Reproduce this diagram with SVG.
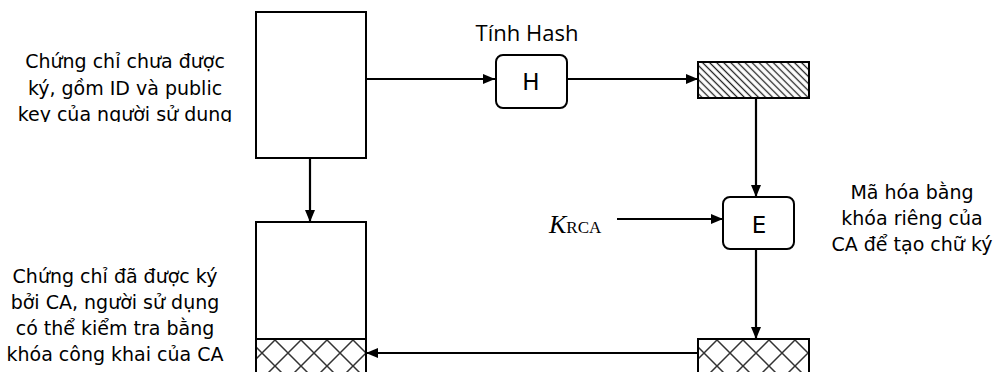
<svg xmlns="http://www.w3.org/2000/svg" width="1005" height="372" viewBox="0 0 1005 372">
<style>
.box{fill:#fff;stroke:#000;stroke-width:2}
.line{fill:none;stroke:#000;stroke-width:2.2}
.lbl{font-family:"DejaVu Sans",Verdana,sans-serif;font-size:19px;fill:#000;text-anchor:middle}
.big{font-family:"DejaVu Sans",Verdana,sans-serif;font-size:23px;fill:#000;text-anchor:middle}
.hash{font-family:"Open Sans","Noto Sans",sans-serif;font-size:22px;fill:#000;text-anchor:middle}
</style>
<defs>
<marker id="arr" viewBox="0 0 12 10" refX="12" refY="5" markerWidth="12" markerHeight="10" markerUnits="userSpaceOnUse" orient="auto">
<path d="M0,0 L12,5 L0,10 Z" fill="#000"/>
</marker>
<pattern id="diag" patternUnits="userSpaceOnUse" width="10" height="5" patternTransform="rotate(45)">
<rect width="10" height="5" fill="#fff"/>
<line x1="0" y1="2.5" x2="10" y2="2.5" stroke="#222" stroke-width="1.3"/>
</pattern>
<pattern id="cross" patternUnits="userSpaceOnUse" x="249" y="340" width="26" height="26">
<rect width="26" height="26" fill="#fff"/>
<path d="M0,0 L26,26 M26,0 L0,26" stroke="#333" stroke-width="1.5"/>
</pattern>
<clipPath id="clipTop"><rect x="0" y="0" width="250" height="122"/></clipPath>
</defs>

<g id="connectors">
<line class="line" x1="366" y1="79" x2="495" y2="79" marker-end="url(#arr)"/>
<line class="line" x1="567" y1="79" x2="698" y2="79" marker-end="url(#arr)"/>
<line class="line" x1="756" y1="98" x2="756" y2="197" marker-end="url(#arr)"/>
<line class="line" x1="617" y1="219" x2="723" y2="219" marker-end="url(#arr)"/>
<line class="line" x1="756" y1="249" x2="756" y2="339" marker-end="url(#arr)"/>
<line class="line" x1="698" y1="353" x2="366" y2="353" marker-end="url(#arr)"/>
<line class="line" x1="310" y1="158" x2="310" y2="222" marker-end="url(#arr)"/>
</g>

<g id="unsigned-cert">
<rect class="box" x="256" y="12" width="110" height="146"/>
<text class="lbl" clip-path="url(#clipTop)"><tspan x="125" y="68">Chứng chỉ chưa được</tspan><tspan x="125" y="94.5">ký, gồm ID và public</tspan><tspan x="125" y="121">key của người sử dung</tspan></text>
</g>

<g id="hash">
<text class="hash" x="527" y="41">Tính Hash</text>
<rect class="box" x="496" y="55" width="71" height="53" rx="7"/>
<text class="big" x="531" y="90">H</text>
</g>

<g id="digest">
<rect x="698" y="62" width="111" height="36" fill="url(#diag)" stroke="#000" stroke-width="2"/>
</g>

<g id="encrypt">
<rect class="box" x="723" y="197" width="71" height="52" rx="7"/>
<text class="big" x="759" y="233">E</text>
<text class="lbl"><tspan x="912" y="199">Mã hóa bằng</tspan><tspan x="912" y="225">khóa riêng của</tspan><tspan x="912" y="251">CA để tạo chữ ký</tspan></text>
</g>

<g id="key">
<text x="549" y="233" font-family="'Liberation Serif','DejaVu Serif',serif" fill="#000"><tspan font-size="26" font-style="italic">K</tspan><tspan font-size="17">RCA</tspan></text>
</g>

<g id="signature">
<rect x="698" y="339" width="111" height="45" fill="url(#cross)" stroke="#000" stroke-width="2"/>
</g>

<g id="signed-cert">
<rect class="box" x="256" y="222" width="110" height="162"/>
<rect x="256" y="339" width="110" height="45" fill="url(#cross)" stroke="#000" stroke-width="2"/>
<text class="lbl"><tspan x="115" y="283">Chứng chỉ đã được ký</tspan><tspan x="115" y="309">bởi CA, người sử dụng</tspan><tspan x="115" y="335">có thể kiểm tra bằng</tspan><tspan x="115" y="361">khóa công khai của CA</tspan></text>
</g>
</svg>
